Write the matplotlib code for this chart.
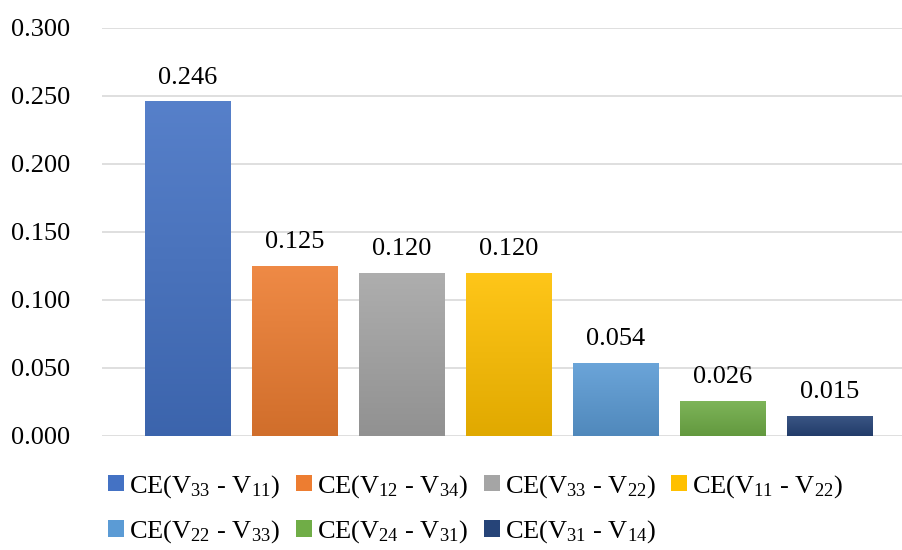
import numpy as np
import matplotlib
matplotlib.use("Agg")
import matplotlib.pyplot as plt
from matplotlib.colors import to_rgb, LinearSegmentedColormap
from matplotlib.patches import Patch

plt.rcParams['font.family'] = ['Liberation Serif', 'DejaVu Serif']
plt.rcParams['mathtext.fontset'] = 'custom'
plt.rcParams['mathtext.rm'] = 'Liberation Serif'
plt.rcParams['mathtext.default'] = 'regular'

labels = ['CE(V$_{33}$ - V$_{11}$)', 'CE(V$_{12}$ - V$_{34}$)', 'CE(V$_{33}$ - V$_{22}$)',
          'CE(V$_{11}$ - V$_{22}$)', 'CE(V$_{22}$ - V$_{33}$)', 'CE(V$_{24}$ - V$_{31}$)',
          'CE(V$_{31}$ - V$_{14}$)']
values = [0.246, 0.125, 0.120, 0.120, 0.054, 0.026, 0.015]
colors = ['#4472C4', '#ED7D31', '#A5A5A5', '#FFC000', '#5B9BD5', '#70AD47', '#264478']
yticks = [0.0, 0.05, 0.10, 0.15, 0.20, 0.25, 0.30]


def shade(c, f):
    r = np.array(to_rgb(c))
    if f > 0:
        return tuple(r + (1 - r) * f)
    return tuple(r * (1 + f))


fig = plt.figure(figsize=(9.03, 5.5), dpi=100)
ax = fig.add_axes([0.113, 0.2073, 0.887, 0.7418])

x = np.arange(len(values))
bars = ax.bar(x, values, width=0.80, color=colors, zorder=2)

# vertical gradient fill: lighter at top, darker at bottom
grad = np.linspace(0, 1, 256).reshape(-1, 1)
for b, c in zip(bars, colors):
    cmap = LinearSegmentedColormap.from_list('g', [shade(c, -0.12), shade(c, 0.10)])
    x0, y0 = b.get_x(), b.get_y()
    im = ax.imshow(grad, cmap=cmap, aspect='auto', origin='lower',
                   extent=[x0, x0 + b.get_width(), y0, y0 + b.get_height()], zorder=3)
    im.set_clip_path(b)

for xi, v in zip(x, values):
    ax.annotate(f'{v:.3f}', (xi, v), xytext=(0, 9), textcoords='offset points',
                ha='center', va='bottom', fontsize=19)

ax.set_xlim(-0.804, 6.682)
ax.set_ylim(0, 0.3)
ax.set_yticks(yticks)
ax.set_yticklabels([f'{t:.3f}' for t in yticks], fontsize=19)
ax.set_xticks([])
ax.tick_params(axis='y', length=0, pad=23)
ax.grid(axis='y', color='#d9d9d9', linewidth=1.2, zorder=0)
for s in ax.spines.values():
    s.set_visible(False)

handles = [Patch(facecolor=c, edgecolor='none') for c in colors]
order = [0, 4, 1, 5, 2, 6, 3]
fig.legend([handles[i] for i in order], [labels[i] for i in order],
           ncol=4, loc='upper left', bbox_to_anchor=(0.12, 0.14), frameon=False,
           fontsize=19, handlelength=0.6, handleheight=0.6, handletextpad=0.2,
           columnspacing=0.6, labelspacing=0.7, borderpad=0, borderaxespad=0)

fig.savefig('out.png', dpi=100)
